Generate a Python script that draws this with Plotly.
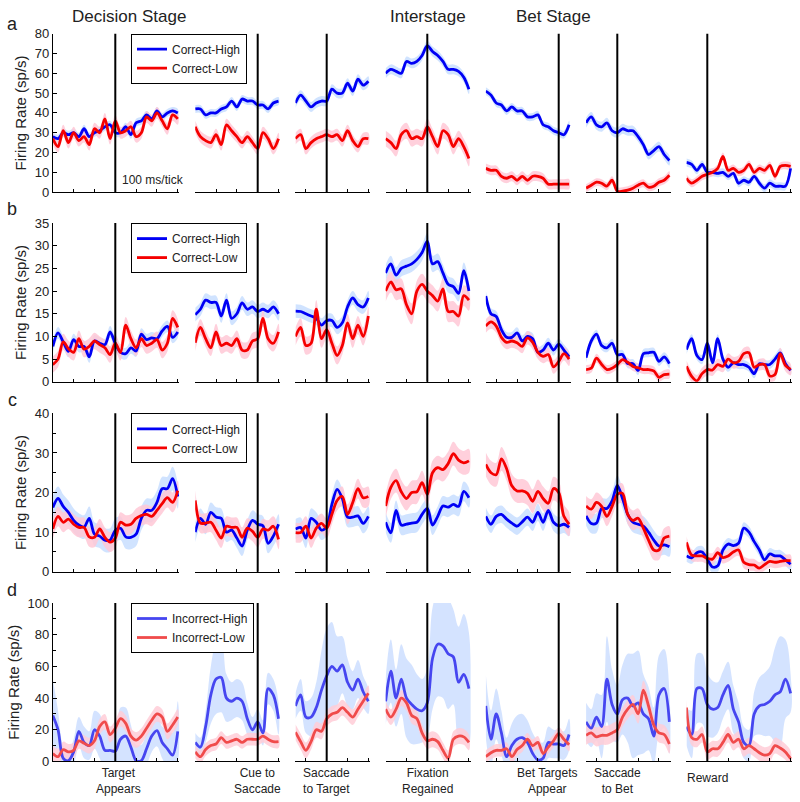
import plotly.graph_objects as go

# ---------------- data (sp/s), sampled every 25 ms ----------------
step_ms = 25
# analysis windows (ms relative to event) for the 7 alignment panels
win_start = [-300, -300, -150, -200, -350, -150, -100]
win_end = [300, 100, 200, 200, 50, 250, 400]
event_labels = ["Target<br>Appears", "Cue to<br>Saccade", "Saccade<br>to Target",
                "Fixation<br>Regained", "Bet Targets<br>Appear", "Saccade<br>to Bet", "Reward"]
event_label_shift = [15, 0, 0, 0, -55, 0, 0]

row_letters = ["a", "b", "c", "d"]
legend_names = [("Correct-High", "Correct-Low"), ("Correct-High", "Correct-Low"),
                ("Correct-High", "Correct-Low"), ("Incorrect-High", "Incorrect-Low")]
y_max = [80, 35, 40, 100]
y_dtick = [10, 5, 10, 20]
y_minor = [None, None, 5, 10]

a_high = [
    [28, 27, 30, 29, 30, 28, 32, 28, 30, 31, 33, 34, 30, 30, 33, 29, 35, 36, 39, 37, 41, 38, 40, 41, 40],
    [42, 42, 39, 40, 40, 42, 43, 46, 43, 47, 46, 46, 44, 44, 42, 45, 46],
    [45, 49, 46, 43, 45, 46, 46, 52, 50, 50, 55, 51, 57, 54, 56],
    [60, 62, 61, 60, 66, 65, 66, 69, 74, 71, 69, 66, 62, 62, 61, 58, 52],
    [51, 49, 45, 44, 41, 43, 41, 41, 38, 38, 39, 34, 33, 31, 30, 29, 34],
    [35, 38, 34, 33, 35, 31, 30, 32, 31, 31, 28, 24, 19, 21, 23, 19, 16],
    [15, 14, 11, 14, 10, 10, 9.5, 10, 8, 9.5, 4.5, 6, 5, 8, 4.5, 2, 4.5, 3, 3, 3, 12],
]
a_low = [
    [27, 23, 31, 25, 30, 26, 28, 24, 32, 30, 37, 27, 36, 30, 31, 33, 28, 30, 38, 36, 40, 36, 32, 39, 37],
    [33, 28, 26, 25, 29, 24, 34, 31, 28, 25, 28, 25, 22, 30, 27, 22, 27],
    [27, 29, 22, 25, 27, 28, 29, 28, 29, 26, 31, 26, 23, 27, 27],
    [27, 25, 22, 29, 31, 27, 28, 27, 33, 28, 23, 31, 29, 23, 27, 23, 17],
    [12, 11, 11, 8, 7, 8, 6, 8, 6, 8, 8, 7, 4, 4, 4, 4, 4],
    [2, 3.5, 5, 4.5, 3, 6, 0.5, 0.5, 1, 2, 3.5, 4.5, 2.5, 3, 5, 6, 8.5],
    [7, 4.5, 6, 8, 9, 10, 12, 18, 11, 12, 10, 11, 14, 10, 12, 11, 13.5, 8, 13, 13.5, 13],
]
b_high = [
    [7.8, 10.8, 8.8, 6.7, 9.3, 7.8, 7.8, 5.5, 9, 8.5, 8.2, 11, 8.4, 6.5, 6.2, 7.5, 6.8, 10.5, 9.3, 9.7, 9.5, 11.2, 12.2, 9.8, 11],
    [14.8, 16, 18, 17.5, 17.5, 14.5, 18, 14, 15, 17.4, 16, 16.5, 15.5, 16, 15.5, 16.5, 15],
    [15.6, 15.5, 15, 14.5, 14, 12.5, 13.5, 13.5, 12, 13, 16.5, 18.5, 17, 16.5, 18.5],
    [24, 26, 23.5, 25, 25.5, 26, 27, 28.5, 31, 26, 26.5, 24, 21.5, 21, 19.5, 24.5, 20],
    [18.9, 15, 14.4, 11.5, 9.8, 9.8, 10.8, 9, 10, 9.5, 6.5, 7, 8.5, 7, 8.3, 7, 5.5],
    [5.3, 9, 10.5, 8, 7.5, 8.5, 6, 6, 4, 4, 2.5, 6.2, 6.4, 6.5, 4.5, 5.5, 4],
    [7.1, 9.5, 5.8, 4.9, 8.5, 4.2, 9.5, 5, 3.2, 4.2, 3.8, 3.8, 3.2, 1.8, 4, 3.8, 3.8, 5, 6.4, 4, 2.5],
]
b_low = [
    [3.8, 5, 8.8, 7.3, 6.5, 9.5, 7.2, 7.8, 9, 8.2, 7.5, 6, 8.5, 6.5, 12.5, 9.5, 7.5, 9.5, 8, 8.5, 9.3, 7, 8.5, 14, 12],
    [8.6, 12, 9.5, 7.5, 11, 8, 8.5, 8, 9.5, 7, 7, 9, 9.5, 14, 9.5, 8.5, 11],
    [10, 12, 8, 8.5, 16, 9.5, 11.5, 8.5, 5.8, 8, 13, 9.5, 12.5, 10, 14.5],
    [20, 22, 20.3, 20.5, 17, 15, 20, 21.5, 20, 19, 17.8, 20.5, 15.5, 15.5, 14.5, 19, 18],
    [12.3, 13.2, 12.3, 9.8, 8.7, 9, 8.6, 7.8, 9.7, 8.7, 6.5, 5.6, 6, 3.3, 4.5, 6.2, 5],
    [2.7, 3, 5.2, 3.8, 2.7, 3, 3.8, 4.9, 4.3, 3.4, 3.1, 2.7, 2.7, 2.4, 1, 1.6, 1.7],
    [3.4, 1.2, 0.2, 1.8, 2.7, 2.6, 3.8, 3.4, 5, 4.2, 4.5, 6.2, 6.4, 3.2, 3.8, 3.8, 1.3, 1.6, 6.2, 3.6, 2.7],
]
c_high = [
    [16.2, 18.5, 16.5, 15, 13, 11.8, 11.3, 13.5, 9.5, 9, 8, 8, 10.5, 11, 8.8, 8.7, 9.5, 13.5, 15.5, 15.5, 17.5, 21, 21, 23.5, 19],
    [10, 13.5, 12, 15, 13.8, 13.5, 10, 10.5, 8.5, 6.5, 10.5, 13, 12, 11.6, 7.2, 9, 12],
    [10.8, 11.2, 8.5, 13.5, 12.5, 10.5, 11.5, 17, 20.8, 18.5, 13.8, 13.8, 14.1, 12.2, 14],
    [12.5, 9.8, 15.5, 11.8, 12, 12.3, 12.5, 14.5, 16, 11.8, 14, 16.6, 16.3, 17, 16.5, 20.3, 18.7],
    [14, 12, 14, 14.5, 13.3, 12.3, 11.5, 12.6, 13.8, 12.5, 15, 12.5, 15.5, 12.5, 11.6, 12, 11.2],
    [14.1, 12.2, 12.3, 16, 16, 17.9, 21.8, 18.5, 14.5, 12.5, 12, 11.5, 10, 8, 6.5, 6.8, 6.3],
    [4, 3.5, 4.8, 5, 3.2, 1.2, 1.5, 5.5, 7, 6.6, 7.2, 11, 10, 7.6, 5.5, 3, 4.5, 4, 4, 3, 1.9],
]
c_low = [
    [10.8, 14, 12.5, 13.3, 12, 11.2, 11.2, 8.8, 8.7, 10.8, 8.7, 7.5, 8.5, 12.5, 11.8, 12, 13.5, 14.2, 14.5, 14, 15.5, 17.2, 18.7, 17.5, 20.5],
    [18, 12.3, 12.3, 12.5, 10.5, 8.5, 11.5, 11.2, 11.2, 8.7, 11, 10.2, 8.7, 10.8, 10.5, 11.5, 8.2],
    [9.9, 9.9, 11.5, 8.5, 11, 12.2, 11, 14.5, 18, 19, 14.5, 17.5, 21, 18.7, 19],
    [16.6, 21.3, 23, 20.2, 18.5, 20, 20.2, 22.5, 19.5, 25, 26.3, 25.8, 27.3, 29.8, 28.2, 27.5, 28],
    [27.1, 25, 24.5, 28.5, 26, 21.7, 20.4, 20.4, 19.8, 17.8, 20.3, 18.5, 17.3, 21, 20, 14, 12],
    [16.6, 15.8, 17.5, 16.5, 14, 16.5, 19.5, 19.8, 14.5, 13, 13.5, 11, 8, 5.5, 5.5, 8.5, 9],
    [7.4, 4.2, 4, 4, 3.4, 3.2, 4.8, 3.6, 4, 5, 5.5, 2.4, 1.8, 1.7, 0.9, 1.8, 2.6, 2.4, 2.6, 2.8, 2.8],
]
d_high = [
    [29, 20, 2, 0.5, 6, 19, 12, 10, 20, 16, 7, 7, 6.5, 14, 16, 9, 0.5, 0.5, 8, 16, 19.5, 12, 8, 4, 19],
    [12, 9, 22, 42, 52, 53, 40, 38, 40, 38, 27, 20, 25, 18, 46, 42, 27],
    [35, 42, 28, 28, 34, 45, 54, 60, 57, 61, 50, 45, 52, 44, 38],
    [38, 57, 40, 52, 40, 36, 33, 32, 37, 65, 74, 73, 68, 66, 50, 55, 46],
    [35, 14, 30, 18, 3, 10, 14, 15, 12, 5, 1, 2, 12, 11, 11, 10, 17],
    [25, 21, 28, 22, 52, 36, 30, 39, 40, 35, 37, 30, 27, 16, 42, 46, 25],
    [22, 17, 46, 46, 36, 33, 34, 42, 48, 33, 25, 12, 10, 30, 35, 36, 38, 42, 44, 52, 43],
]
d_low = [
    [5, 3, 7.5, 6, 7, 13, 11.5, 10, 13, 22, 25, 17, 21, 27, 24, 16, 13.5, 16, 21, 26, 30, 28, 19, 23, 28],
    [6, 3, 7.5, 10, 11, 15, 12, 13, 14, 12, 14, 14, 14, 16, 14, 12.5, 12.5],
    [18.5, 12.5, 7, 12.5, 20, 19, 27, 30, 31, 34, 31, 28, 33, 38, 43],
    [33, 28, 33, 40, 37, 29, 27, 18, 13, 14, 12.5, 7, 2, 14, 16, 15.5, 12],
    [3, 5.5, 7, 7, 8, 3, 7.5, 10, 14, 10, 12, 5, 9, 13, 17.5, 14, 10.5],
    [16.5, 18, 15.5, 16.5, 16.5, 18, 20, 28, 33, 36, 30, 45, 35, 23, 18, 17, 11],
    [34, 15, 14, 17, 6, 8, 8, 12, 17, 12, 14, 8, 10, 8, 5.5, 4, 5, 10, 8.5, 6, 1.7],
]
# standard error (sp/s): one value per panel, or one per sample where it varies a lot
a_high_sem = [2, 2, 2.5, 2.5, 2, 2.5, 2]
a_low_sem = [3, 3, 3, 4, 2.5, 2, 2]
b_high_sem = [1.3, 1.5, 1.5, 1.8, 1.2, 1, 1]
b_low_sem = [1.8, 1.8, 2, 2.3, 1.5, 1, 1.3]
c_high_sem = [3, 2.5, 2.5, 2.5, 2.2, 2.5, 1.5]
c_low_sem = [2.5, 2.5, 2.5, 3, 3, 2.5, 1.5]
d_high_sem = [
    [23, 12, 8, 6, 8, 9, 10, 9, 12, 14, 14, 12, 12, 20, 18, 14, 10, 10, 10, 10, 10, 10, 12, 14, 19],
    [6, 6, 10, 18, 22, 22, 15, 12, 12, 12, 10, 8, 8, 8, 10, 10, 10],
    [8, 10, 10, 12, 16, 25, 30, 28, 22, 18, 15, 12, 12, 10, 8],
    [15, 20, 18, 22, 25, 25, 22, 20, 22, 32, 33, 33, 35, 30, 35, 38, 35],
    [20, 18, 16, 14, 12, 14, 15, 15, 14, 13, 12, 10, 10, 9, 9, 9, 10],
    [12, 12, 15, 20, 27, 22, 18, 22, 28, 33, 33, 25, 20, 18, 25, 25, 20],
    [12, 15, 22, 22, 20, 18, 16, 15, 15, 15, 12, 10, 10, 14, 18, 20, 22, 30, 35, 25, 12],
]
d_low_sem = [5, 4, 5, 5, 4, 6, 5]

rows_high = [a_high, b_high, c_high, d_high]
rows_low = [a_low, b_low, c_low, d_low]
rows_high_sem = [a_high_sem, b_high_sem, c_high_sem, d_high_sem]
rows_low_sem = [a_low_sem, b_low_sem, c_low_sem, d_low_sem]

# ---------------- styling / geometry ----------------
W, H = 800, 802
PX_PER_MS = 0.2083
event_px = [115.3, 257.7, 326.7, 427.3, 558.7, 617.3, 707.3]


def fy(p):
    """vertical pixel (as wanted on the final picture) -> figure pixel (viewer calibration)"""
    return (p - 5.25) / 0.983


row_px = [(32, 190.7), (221.7, 380.7), (412.3, 571), (602.3, 761)]

line_col = [("rgb(0,0,245)", "rgb(245,0,0)")] * 3 + [("rgb(70,70,240)", "rgb(240,75,75)")]
band_col = [("rgba(200,222,255,0.85)", "rgba(255,200,214,0.85)")] * 3 + \
           [("rgba(205,222,255,0.85)", "rgba(255,205,215,0.85)")]
FONT = "Liberation Sans, Arial, sans-serif"
TXT = "#222222"

fig = go.Figure()
layout = dict(width=W, height=H, autosize=False, margin=dict(l=0, r=0, t=0, b=0, pad=0),
              paper_bgcolor="white", plot_bgcolor="white",
              font=dict(family=FONT, size=12, color=TXT))
shapes = []
annotations = []


def as_list(sem, n):
    return list(sem) if isinstance(sem, (list, tuple)) else [sem] * n


for r in range(4):
    y0p, y1p = fy(row_px[r][0]), fy(row_px[r][1])
    ydom = [1 - y1p / H, 1 - y0p / H]
    leg_id = "legend" if r == 0 else f"legend{r + 1}"
    for c in range(7):
        k = r * 7 + c + 1
        xs = "x" if k == 1 else f"x{k}"
        ys = "y" if k == 1 else f"y{k}"
        t0, t1 = win_start[c], win_end[c]
        xdom = [(event_px[c] + t0 * PX_PER_MS) / W, (event_px[c] + (t1 + 8) * PX_PER_MS) / W]
        times = list(range(t0, t1 + 1, step_ms))

        for si, (series, sems) in enumerate([(rows_high[r][c], rows_high_sem[r][c]),
                                             (rows_low[r][c], rows_low_sem[r][c])]):
            sl = as_list(sems, len(series))
            upper = [v + s for v, s in zip(series, sl)]
            lower = [max(v - s, -5) for v, s in zip(series, sl)]
            fig.add_trace(go.Scatter(
                x=times + times[::-1], y=upper + lower[::-1],
                fill="toself", fillcolor=band_col[r][si], line=dict(width=0, shape="spline"),
                mode="lines", hoverinfo="skip", showlegend=False, xaxis=xs, yaxis=ys))
        for si, series in enumerate([rows_high[r][c], rows_low[r][c]]):
            fig.add_trace(go.Scatter(
                x=times, y=series, mode="lines", name=legend_names[r][si],
                line=dict(color=line_col[r][si], width=2.8, shape="spline", smoothing=0.9),
                showlegend=(c == 0), legend=leg_id, xaxis=xs, yaxis=ys))

        xa = dict(domain=xdom, range=[t0, t1 + 8], anchor=ys, showgrid=False, zeroline=False,
                  showline=True, linecolor="black", linewidth=1, ticks="inside", ticklen=3,
                  tickcolor="black", tick0=0, dtick=100, showticklabels=False, fixedrange=True)
        ya = dict(domain=ydom, range=[0, y_max[r]], anchor=xs, showgrid=False, zeroline=False,
                  fixedrange=True)
        if c == 0:
            ya.update(showline=True, linecolor="black", linewidth=1, ticks="inside", ticklen=4,
                      tickcolor="black", tick0=0, dtick=y_dtick[r], showticklabels=True,
                      tickfont=dict(size=13, color=TXT),
                      title=dict(text="Firing Rate (sp/s)", font=dict(size=15, color=TXT), standoff=4))
            if y_minor[r]:
                ya["minor"] = dict(dtick=y_minor[r], ticks="inside", ticklen=3, tickcolor="black")
        else:
            ya.update(showline=False, ticks="", showticklabels=False)
        layout["xaxis" if k == 1 else f"xaxis{k}"] = xa
        layout["yaxis" if k == 1 else f"yaxis{k}"] = ya

        shapes.append(dict(type="line", xref=xs, yref=f"{ys} domain", x0=0, x1=0, y0=0, y1=1,
                           line=dict(color="black", width=2), layer="above"))

        if r == 3:
            ylab = 778 if "<br>" not in event_labels[c] else 781
            annotations.append(dict(text=event_labels[c], xref=xs, yref="paper",
                                    x=event_label_shift[c], y=1 - fy(ylab) / H, showarrow=False,
                                    xanchor="center", yanchor="middle", align="center",
                                    font=dict(size=12, color=TXT)))

    layout[leg_id] = dict(x=131 / W, y=1 - y0p / H, xanchor="left", yanchor="top",
                          bordercolor="black", borderwidth=1, bgcolor="white",
                          font=dict(size=12, color=TXT), itemwidth=30, tracegroupgap=0)
    annotations.append(dict(text=row_letters[r], xref="paper", yref="paper", x=12 / W,
                            y=1 - fy([22, 208, 399, 589][r]) / H, showarrow=False,
                            xanchor="center", yanchor="middle", font=dict(size=18, color=TXT)))

for txt, cx in [("Decision Stage", 129), ("Interstage", 428), ("Bet Stage", 553)]:
    annotations.append(dict(text=txt, xref="paper", yref="paper", x=cx / W, y=1 - fy(15) / H,
                            showarrow=False, xanchor="center", yanchor="middle",
                            font=dict(size=17, color=TXT)))
annotations.append(dict(text="100 ms/tick", xref="paper", yref="paper", x=153 / W,
                        y=1 - fy(179) / H, showarrow=False, xanchor="center", yanchor="middle",
                        font=dict(size=12, color=TXT)))

layout["shapes"] = shapes
layout["annotations"] = annotations
fig.update_layout(**layout)
# remove the browser's default page margin so the 800x802 figure fills the window exactly
page_css = ("var s=document.documentElement.style;s.margin='0';s.padding='0';s.overflow='hidden';"
            "var b=document.body.style;b.margin='0';b.padding='0';b.overflow='hidden';")
fig.write_html("out.html", config={"displayModeBar": False}, post_script=page_css)
